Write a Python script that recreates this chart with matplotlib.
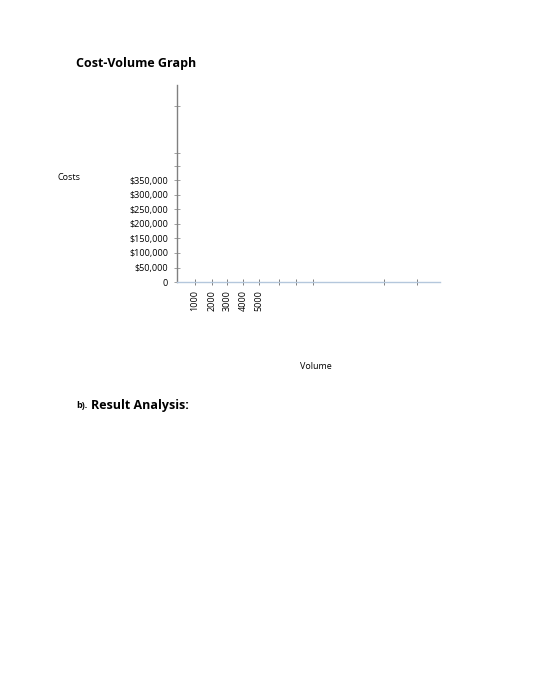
import matplotlib
matplotlib.use("Agg")
import matplotlib.pyplot as plt

plt.rcParams['font.family'] = ['Open Sans', 'DejaVu Sans']

y_ticks = [0, 50000, 100000, 150000, 200000, 250000, 300000, 350000, 400000, 442000, 603000]
y_labels = ["0", "$50,000", "$100,000", "$150,000", "$200,000", "$250,000", "$300,000", "$350,000", "", "", ""]
x_ticks = [1100, 2150, 3100, 4100, 5100, 6300, 7350, 8450, 12850, 14900]
x_labels = ["1000", "2000", "3000", "4000", "5000", "", "", "", "", ""]

fig = plt.figure(figsize=(5.57, 7.0), dpi=100)
ax = fig.add_axes([0.318, 0.597, 0.472, 0.281])
ax.set_xlim(0, 16300)
ax.set_ylim(0, 675000)
for s in ['top', 'right']:
    ax.spines[s].set_visible(False)
ax.spines['left'].set_color('#808080')
ax.spines['left'].set_linewidth(1.0)
ax.spines['bottom'].set_color('#b4c7dc')
ax.spines['bottom'].set_linewidth(1.0)
ax.set_yticks(y_ticks)
ax.set_yticklabels(y_labels, fontsize=6.5)
ax.set_xticks(x_ticks)
ax.set_xticklabels(x_labels, fontsize=6.5, rotation=90)
ax.tick_params(axis='y', direction='inout', length=5, color='#a0a0a0', width=0.7, pad=4)
ax.tick_params(axis='x', direction='inout', length=5, color='#808080', width=0.7, pad=3)

fig.text(76/557, 1 - 63/700, "Cost-Volume Graph", fontsize=9, fontweight='bold', va='center')
fig.text(57/557, 1 - 177/700, "Costs", fontsize=6.5, va='center')
fig.text(300/557, 1 - 366/700, "Volume", fontsize=6.5, va='center')
fig.text(76/557, 1 - 406/700, "b).", fontsize=6.5, fontweight='bold', va='center')
fig.text(91/557, 1 - 405/700, "Result Analysis:", fontsize=9, fontweight='bold', va='center')

fig.savefig("out.png", dpi=100)
